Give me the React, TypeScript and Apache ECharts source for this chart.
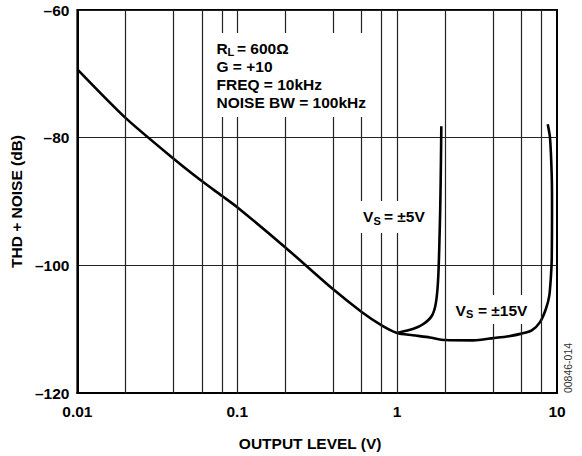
import React, { useEffect, useRef } from "react";
import * as echarts from "echarts";

// ±15V supply curve (output level in V, THD+N in dB)
const vs15X = [0.01, 0.02, 0.04, 0.06, 0.08, 0.1, 0.2, 0.4, 0.6, 0.8, 1.0, 1.25, 1.6, 2, 3, 4, 5, 6, 6.95, 7.83, 8.53, 8.95, 9.17, 9.27, 9.31, 9.27, 9.04, 8.75];
const vs15Y = [-69.3, -76.9, -83.3, -86.8, -89.1, -90.9, -97.2, -103.8, -107.3, -109.4, -110.6, -110.95, -111.3, -111.7, -111.75, -111.4, -111.1, -110.7, -110.2, -108.9, -106.8, -104.75, -101.6, -99.0, -91.2, -86.0, -80, -77.9];

// ±5V supply curve (branches off at 1 V)
const vs5X = [1.0, 1.265, 1.46, 1.65, 1.75, 1.81, 1.86, 1.88, 1.89];
const vs5Y = [-110.6, -109.95, -109.2, -107.9, -105.8, -101.6, -91.2, -83.4, -78.2];

// vertical grid lines drawn in the reference
const gridX = [0.02, 0.04, 0.06, 0.08, 0.1, 0.2, 0.4, 0.6, 0.8, 1, 2, 4, 6, 8];

const X_MIN = 0.01;
const X_MAX = 10;
const Y_MIN = -120;
const Y_MAX = -60;
const Y_STEP = 20;

const FONT = "'Liberation Sans', Arial, Helvetica, sans-serif";
const FS = 15.5;

function zip(xs: number[], ys: number[]) {
  return xs.map((x, i) => [x, ys[i]]);
}

export default function App() {
  const ref = useRef<HTMLDivElement>(null);
  useEffect(() => {
    if (!ref.current) return;
    const chart = echarts.init(ref.current, undefined, { renderer: "svg" });
    const txt = (text: string, x: number, y: number, size = FS, extra: any = {}) => ({
      type: "text",
      x,
      y,
      z: 101,
      style: {
        text,
        fill: "#000",
        font: `bold ${size}px ${FONT}`,
        textAlign: "left",
        textVerticalAlign: "middle",
        ...extra,
      },
    });
    const box = (x: number, y: number, w: number, h: number) => ({
      type: "rect",
      z: 100,
      shape: { x, y, width: w, height: h },
      style: { fill: "#fff" },
    });
    chart.setOption({
      animation: false,
      backgroundColor: "#fff",
      grid: {
        left: 77,
        right: 25,
        top: 10,
        bottom: 61,
        show: true,
        borderColor: "#000",
        borderWidth: 2,
      },
      xAxis: {
        type: "log",
        logBase: 10,
        min: X_MIN,
        max: X_MAX,
        name: "OUTPUT LEVEL (V)",
        nameLocation: "middle",
        nameGap: 42,
        nameTextStyle: {
          fontFamily: FONT,
          fontWeight: "bold",
          fontSize: FS,
          color: "#000",
          padding: [0, 14, 0, 0],
        },
        axisLine: { show: true, lineStyle: { color: "#000", width: 2 } },
        axisTick: { show: false },
        splitLine: { show: false },
        axisLabel: {
          margin: 10,
          fontFamily: FONT,
          fontWeight: "bold",
          fontSize: FS,
          color: "#000",
          formatter: (v: number) => String(parseFloat(v.toPrecision(6))),
        },
      },
      yAxis: {
        type: "value",
        min: Y_MIN,
        max: Y_MAX,
        interval: Y_STEP,
        name: "THD + NOISE (dB)",
        nameLocation: "middle",
        nameGap: 46,
        nameTextStyle: {
          fontFamily: FONT,
          fontWeight: "bold",
          fontSize: FS,
          color: "#000",
        },
        axisLine: { show: true, lineStyle: { color: "#000", width: 2 } },
        axisTick: { show: false },
        splitLine: { show: true, lineStyle: { color: "#222", width: 1.2 } },
        axisLabel: {
          margin: 8,
          fontFamily: FONT,
          fontWeight: "bold",
          fontSize: FS,
          color: "#000",
          formatter: (v: number) => (v < 0 ? "\u2013" + Math.abs(v) : String(v)),
        },
      },
      series: [
        {
          type: "line",
          z: 1,
          data: [],
          silent: true,
          markLine: {
            silent: true,
            symbol: ["none", "none"],
            label: { show: false },
            lineStyle: { color: "#222", width: 1.2, type: "solid" },
            data: gridX.map((v) => ({ xAxis: v })),
          },
        },
        {
          type: "line",
          z: 3,
          data: zip(vs15X, vs15Y),
          showSymbol: false,
          smooth: 0.25,
          lineStyle: { color: "#000", width: 2.6 },
        },
        {
          type: "line",
          z: 3,
          data: zip(vs5X, vs5Y),
          showSymbol: false,
          smooth: 0.25,
          lineStyle: { color: "#000", width: 2.6 },
        },
      ],
      graphic: [
        box(210, 33, 164, 84),
        txt("R", 216.5, 48),
        txt("L", 227.5, 52, 11),
        txt("= 600\u03A9", 237, 48),
        txt("G = +10", 216.5, 66),
        txt("FREQ = 10kHz", 216.5, 84.5),
        txt("NOISE BW = 100kHz", 216.5, 102.7),
        box(354, 201, 78, 32),
        txt("V", 363, 216.7),
        txt("S", 373.5, 220.5, 11),
        txt("= \u00B15V", 384, 216.7),
        box(450, 295, 82, 29),
        txt("V", 455.5, 310.5),
        txt("S", 466, 314.3, 11),
        txt("= \u00B115V", 478, 310.5),
        {
          type: "text",
          x: 568,
          y: 368,
          rotation: Math.PI / 2,
          z: 101,
          style: {
            text: "00846-014",
            fill: "#333",
            font: `10.5px ${FONT}`,
            textAlign: "center",
            textVerticalAlign: "middle",
          },
        },
      ],
    });
    return () => chart.dispose();
  }, []);
  return (
    <div
      ref={ref}
      style={{ position: "fixed", left: 0, top: 0, width: 582, height: 456 }}
    />
  );
}
